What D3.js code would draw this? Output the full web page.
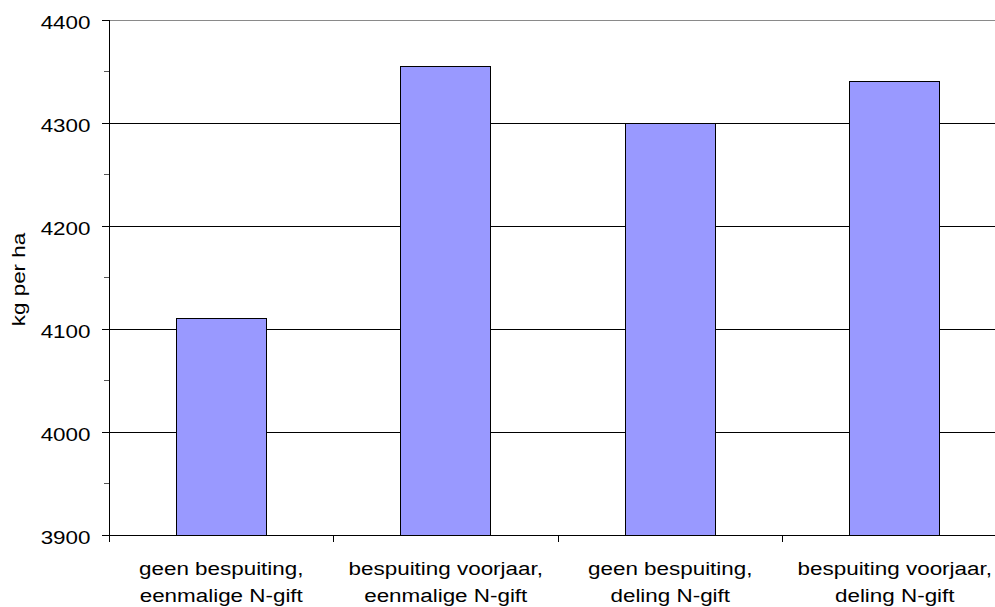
<!DOCTYPE html>
<html>
<head>
<meta charset="utf-8">
<script src="https://cdn.jsdelivr.net/npm/d3@7"></script>
<style>
  html, body { margin: 0; padding: 0; background: #fff; }
  svg { display: block; font-family: "Liberation Sans", Arial, sans-serif; }
</style>
</head>
<body>
<svg id="chart" width="995" height="607"></svg>
<script>
// Yield per treatment (kg per ha)
const categories = [
  ["geen bespuiting,", "eenmalige N-gift"],
  ["bespuiting voorjaar,", "eenmalige N-gift"],
  ["geen bespuiting,", "deling N-gift"],
  ["bespuiting voorjaar,", "deling N-gift"]
];
const values = [4110, 4355, 4300, 4340];
const yTicks = [3900, 4000, 4100, 4200, 4300, 4400];
const yMinorTicks = [3950, 4050, 4150, 4250, 4350];
const yTitle = "kg per ha";

const svg = d3.select("#chart");
const plotLeft = 109, plotTop = 20, plotBottom = 535, band = 224.5;
const plotRight = plotLeft + band * categories.length;
const fontSize = 19, widen = 1.18;   // wide-set label lettering

const x = d3.scaleBand()
  .domain(d3.range(categories.length))
  .range([plotLeft, plotRight])
  .paddingInner(0.6)
  .paddingOuter(0.3);

const y = d3.scaleLinear().domain([3900, 4400]).range([plotBottom, plotTop]);

// Horizontal gridlines
svg.append("g")
  .selectAll("line")
  .data(yTicks.slice(1))
  .join("line")
  .attr("x1", plotLeft).attr("x2", plotRight)
  .attr("y1", d => y(d)).attr("y2", d => y(d))
  .attr("stroke", d => d === 4400 ? "#8a8a8a" : "#000")
  .attr("stroke-width", 1)
  .attr("shape-rendering", "crispEdges");

// Bars
svg.append("g")
  .selectAll("rect")
  .data(values)
  .join("rect")
  .attr("x", (d, i) => x(i))
  .attr("y", d => y(d))
  .attr("width", x.bandwidth())
  .attr("height", d => plotBottom - y(d))
  .attr("fill", "#9999ff")
  .attr("stroke", "#000")
  .attr("stroke-width", 1)
  .attr("shape-rendering", "crispEdges");

// Y axis with major and minor ticks
const yAxis = svg.append("g").attr("transform", `translate(${plotLeft},0)`);
yAxis.append("line")
  .attr("x1", 0).attr("x2", 0).attr("y1", plotTop).attr("y2", plotBottom + 7)
  .attr("stroke", "#000").attr("shape-rendering", "crispEdges");
yAxis.selectAll(".major").data(yTicks).join("line")
  .attr("class", "major")
  .attr("x1", -7).attr("x2", 0)
  .attr("y1", d => y(d)).attr("y2", d => y(d))
  .attr("stroke", "#000").attr("shape-rendering", "crispEdges");
yAxis.selectAll(".minor").data(yMinorTicks).join("line")
  .attr("class", "minor")
  .attr("x1", -5).attr("x2", 0)
  .attr("y1", d => y(d)).attr("y2", d => y(d))
  .attr("stroke", "#555").attr("shape-rendering", "crispEdges");
yAxis.selectAll("text").data(yTicks).join("text")
  .attr("transform", d => `translate(-18.5,${y(d) + 8.5}) scale(${widen},1)`)
  .attr("text-anchor", "end")
  .attr("font-size", fontSize)
  .attr("fill", "#000")
  .text(d => d);

// X axis baseline and category separators
const xAxis = svg.append("g");
xAxis.append("line")
  .attr("x1", plotLeft).attr("x2", plotRight).attr("y1", plotBottom).attr("y2", plotBottom)
  .attr("stroke", "#000").attr("shape-rendering", "crispEdges");
xAxis.selectAll(".sep").data(d3.range(1, categories.length + 1)).join("line")
  .attr("class", "sep")
  .attr("x1", i => plotLeft + band * i).attr("x2", i => plotLeft + band * i)
  .attr("y1", plotBottom).attr("y2", plotBottom + 7)
  .attr("stroke", "#000").attr("shape-rendering", "crispEdges");

// Category labels (two lines each)
const lbl = xAxis.selectAll(".cat").data(categories).join("text")
  .attr("class", "cat")
  .attr("transform", (d, i) => `translate(${x(i) + x.bandwidth() / 2},0) scale(${widen},1)`)
  .attr("text-anchor", "middle")
  .attr("font-size", fontSize)
  .attr("fill", "#000");
lbl.selectAll("tspan").data(d => d).join("tspan")
  .attr("x", 0)
  .attr("y", (d, j) => 575.5 + j * 26.5)
  .text(d => d);

// Y axis title
svg.append("text")
  .attr("transform", `translate(25,${(plotTop + plotBottom) / 2 + 2}) rotate(-90) scale(${widen},1)`)
  .attr("text-anchor", "middle")
  .attr("font-size", fontSize)
  .attr("fill", "#000")
  .text(yTitle);
</script>
</body>
</html>
